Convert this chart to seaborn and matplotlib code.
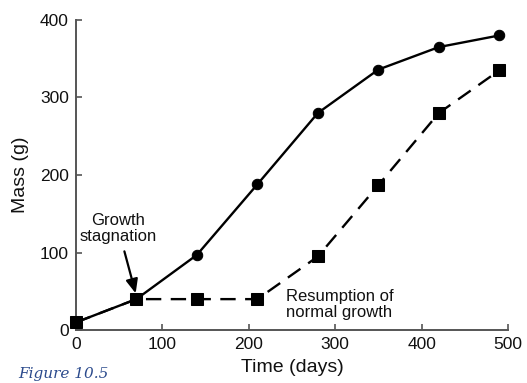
import matplotlib
matplotlib.use("Agg")
import matplotlib.pyplot as plt
import seaborn as sns
import pandas as pd

days = [0, 70, 140, 210, 280, 350, 420, 490]
normal_mass = [10, 40, 97, 188, 280, 336, 365, 380]
stagnated_mass = [10, 40, 40, 40, 95, 187, 280, 335]

x_ticks = [0, 100, 200, 300, 400, 500]
y_ticks = [0, 100, 200, 300, 400]

sns.set_theme(style="ticks")
plt.rcParams['font.family'] = ['Liberation Sans', 'DejaVu Sans']

df = pd.DataFrame({"days": days, "normal": normal_mass, "stagnated": stagnated_mass})

fig = plt.figure(figsize=(5.27, 3.83), dpi=100)
ax = fig.add_axes([0.144, 0.138, 0.820, 0.810])

sns.lineplot(data=df, x="days", y="stagnated", ax=ax, color="black", lw=1.7,
             linestyle=(0, (6.5, 4)), marker="s", markersize=8.5,
             markeredgecolor="black", clip_on=False, zorder=3)
sns.lineplot(data=df, x="days", y="normal", ax=ax, color="black", lw=1.7,
             marker="o", markersize=7.5, markeredgecolor="black", clip_on=False, zorder=4)

ax.set_xlim(0, 500)
ax.set_ylim(0, 400)
ax.set_xticks(x_ticks)
ax.set_yticks(y_ticks)
ax.tick_params(direction="in", length=4, width=1.2, color="#555555",
               labelsize=12.5, labelcolor="#111111", pad=5)
for s in ["top", "right"]:
    ax.spines[s].set_visible(False)
for s in ["left", "bottom"]:
    ax.spines[s].set_color("#555555")
    ax.spines[s].set_linewidth(1.4)

ax.set_xlabel("Time (days)", fontsize=14, color="#111111", labelpad=5)
ax.set_ylabel("Mass (g)", fontsize=14, color="#111111", labelpad=8)

ax.annotate("Growth\nstagnation", xy=(70, 44), xytext=(49, 111),
            ha="center", va="bottom", fontsize=12, color="#111111",
            linespacing=1.1,
            arrowprops=dict(arrowstyle="-|>,head_length=0.7,head_width=0.3",
                            color="black", lw=1.6, shrinkA=3, shrinkB=2))
ax.text(243, 33, "Resumption of\nnormal growth", ha="left", va="center",
        fontsize=12, color="#111111", linespacing=1.1)

fig.text(0.034, 0.006, "Figure 10.5", fontsize=11, style="italic",
         family="DejaVu Serif", color="#2b4a8c", va="bottom", ha="left")

fig.savefig("out.png", dpi=100)
